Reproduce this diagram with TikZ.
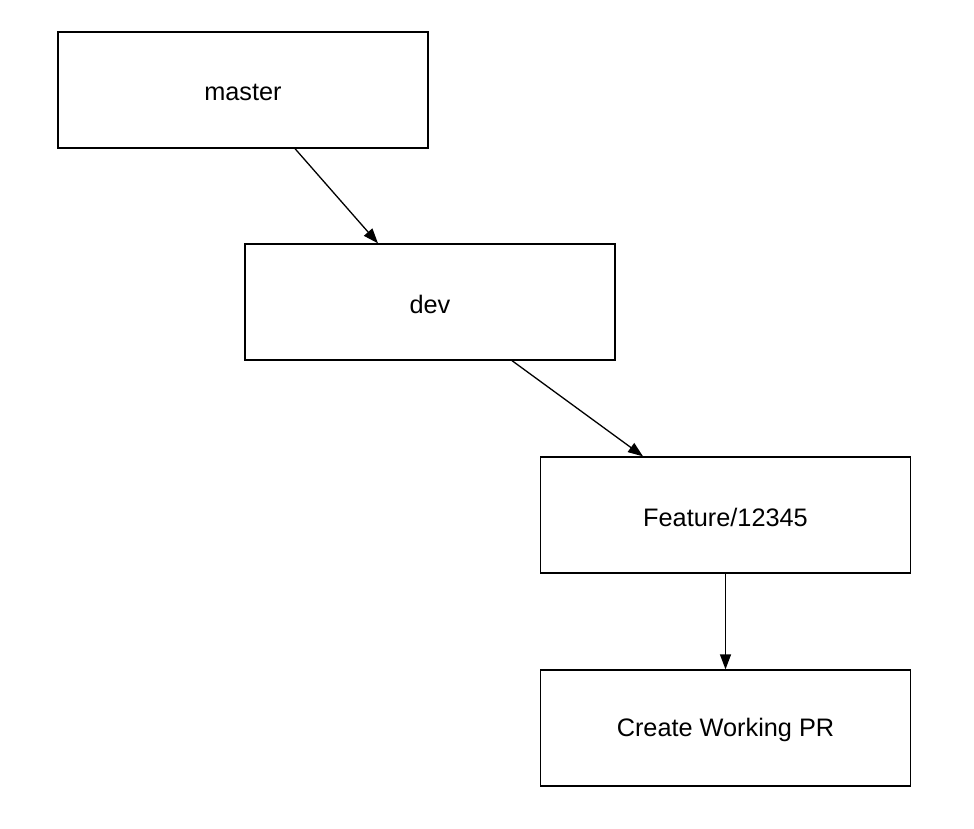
\documentclass[tikz,border=0pt]{standalone}
\usepackage{fontspec}
\setmainfont{Liberation Sans}
\usetikzlibrary{arrows.meta}
\begin{document}
\begin{tikzpicture}[x=1pt,y=-1pt,
  box/.style={draw=black, line width=1.3pt, minimum width=370pt, minimum height=116pt, inner sep=0pt, font=\fontsize{25.3}{29}\selectfont},
  lbl/.style={font=\fontsize{25.3}{29}\selectfont, inner sep=0pt},
  conn/.style={line width=1.3pt, -{Triangle[length=15pt,width=11pt]}}]
\useasboundingbox (0,0) rectangle (974,829);
\fill[white] (0,0) rectangle (974,829);
\node[box] (master) at (243,90) {};
\node[box] (dev) at (430,302) {};
\node[box] (feat) at (725.5,515) {};
\node[box] (pr) at (725.5,728) {};
\node[lbl] (tmaster) at ([yshift=-2pt]master.center) {master};
\node[lbl] (tdev) at ([yshift=-2pt]dev.center) {dev};
\node[lbl] (tfeat) at ([yshift=-2pt]feat.center) {Feature/12345};
\node[lbl] (tpr) at ([yshift=-2pt]pr.center) {Create Working PR};
\draw[conn] (master.south -| 295,0) -- (dev.north -| 378,0);
\draw[conn] (dev.south -| 512,0) -- (feat.north -| 643,0);
\draw[conn] (feat.south) -- (pr.north);
\end{tikzpicture}
\end{document}
